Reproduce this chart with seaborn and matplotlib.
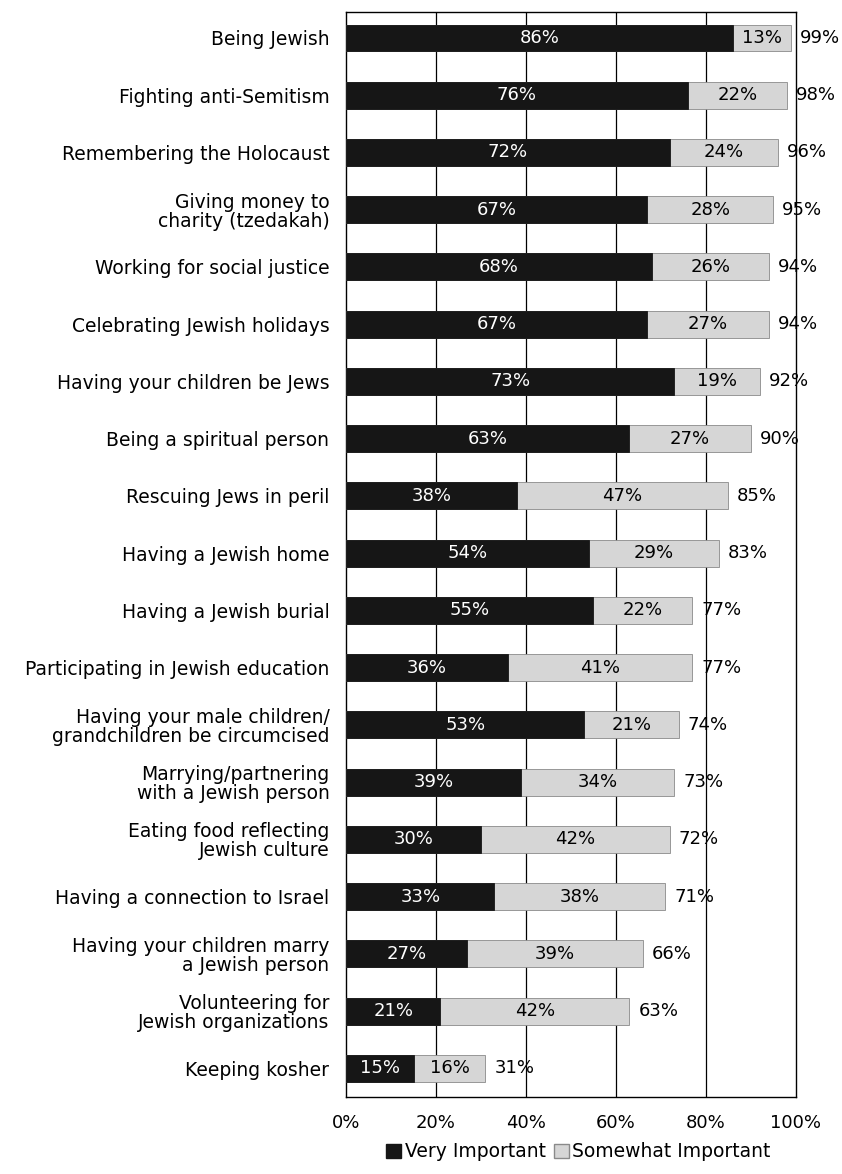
import matplotlib
matplotlib.use("Agg")
import matplotlib.pyplot as plt
import seaborn as sns
import numpy as np
import pandas as pd
from matplotlib.patches import Patch

categories = [
    "Being Jewish",
    "Fighting anti-Semitism",
    "Remembering the Holocaust",
    "Giving money to\ncharity (tzedakah)",
    "Working for social justice",
    "Celebrating Jewish holidays",
    "Having your children be Jews",
    "Being a spiritual person",
    "Rescuing Jews in peril",
    "Having a Jewish home",
    "Having a Jewish burial",
    "Participating in Jewish education",
    "Having your male children/\ngrandchildren be circumcised",
    "Marrying/partnering\nwith a Jewish person",
    "Eating food reflecting\nJewish culture",
    "Having a connection to Israel",
    "Having your children marry\na Jewish person",
    "Volunteering for\nJewish organizations",
    "Keeping kosher",
]
very_important = [86, 76, 72, 67, 68, 67, 73, 63, 38, 54, 55, 36, 53, 39, 30, 33, 27, 21, 15]
somewhat_important = [13, 22, 24, 28, 26, 27, 19, 27, 47, 29, 22, 41, 21, 34, 42, 38, 39, 42, 16]
totals = [99, 98, 96, 95, 94, 94, 92, 90, 85, 83, 77, 77, 74, 73, 72, 71, 66, 63, 31]
x_ticks = [0, 20, 40, 60, 80, 100]
x_ticklabels = ["0%", "20%", "40%", "60%", "80%", "100%"]
legend_labels = ["Very Important", "Somewhat Important"]

DARK = "#161616"
LIGHT = "#d6d6d6"
FONT = ["DejaVu Sans"]

sns.set_style("white")
plt.rcParams["font.family"] = FONT
plt.rcParams["text.color"] = "black"
plt.rcParams["xtick.color"] = "black"
plt.rcParams["ytick.color"] = "black"

df = pd.DataFrame({
    "cat": categories,
    "very": very_important,
    "some": somewhat_important,
    "total": totals,
})
df["stack"] = df["very"] + df["some"]

fig = plt.figure(figsize=(8.42, 11.74), dpi=100)
ax = fig.add_axes([0.411, 0.0656, 0.534, 0.924])

sns.barplot(data=df, x="stack", y="cat", color=LIGHT, width=0.47,
            saturation=1, ax=ax, zorder=3, edgecolor="#8a8a8a", linewidth=0.6)
sns.barplot(data=df, x="very", y="cat", color=DARK, width=0.47,
            saturation=1, ax=ax, zorder=4, edgecolor=DARK, linewidth=0.6)

for i, row in df.iterrows():
    ax.text(row["very"] / 2, i, f"{row['very']}%", ha="center", va="center",
            color="white", fontsize=13, zorder=5)
    ax.text(row["very"] + row["some"] / 2, i, f"{row['some']}%", ha="center",
            va="center", color="black", fontsize=13, zorder=5)
    ax.text(row["stack"] + 2.0, i, f"{row['total']}%", ha="left",
            va="center", color="black", fontsize=13, zorder=5)

ax.set_xlim(0, 100)
ax.set_ylim(18.5, -0.45)
ax.set_xticks(x_ticks)
ax.set_xticklabels(x_ticklabels, fontsize=13)
ax.set_xlabel("")
ax.set_ylabel("")
ax.tick_params(axis="y", length=0, pad=12, labelsize=13.5, labelcolor="black")
ax.tick_params(axis="x", length=0, pad=12, labelcolor="black")
for lbl in ax.get_yticklabels():
    lbl.set_linespacing(1.0)

for xv in x_ticks[1:-1]:
    ax.axvline(xv, color="black", lw=0.9, zorder=1)
for sp in ax.spines.values():
    sp.set_visible(True)
    sp.set_color("black")
    sp.set_linewidth(1.0)

handles = [Patch(facecolor=DARK, edgecolor=DARK), Patch(facecolor=LIGHT, edgecolor="#8a8a8a")]
fig.legend(handles, legend_labels, loc="center", bbox_to_anchor=(0.687, 0.019),
           ncol=2, frameon=False, fontsize=13.5, handlelength=0.8, handleheight=0.8,
           handletextpad=0.2, columnspacing=0.4)

fig.savefig("out.png", dpi=100)
